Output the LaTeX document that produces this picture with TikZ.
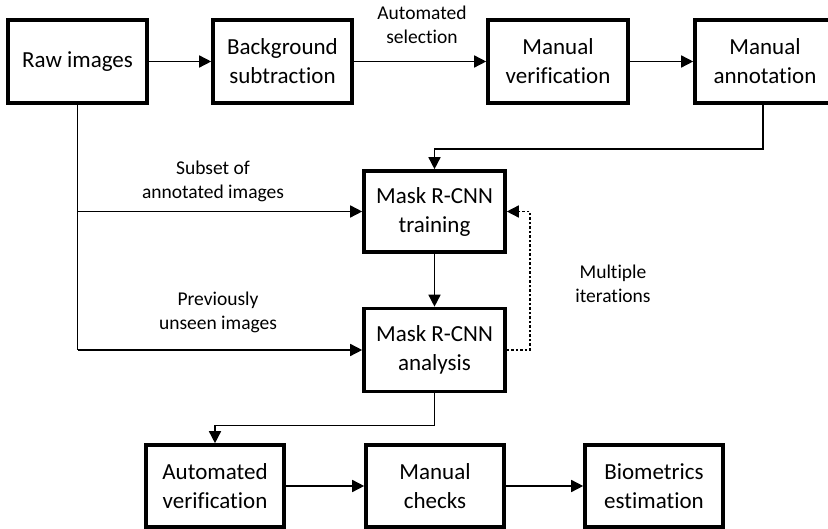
\documentclass[tikz,border=0pt]{standalone}
\usepackage{fontspec}
\setmainfont{Carlito}[Ligatures=NoCommon]
\usepackage{tikz}
\usetikzlibrary{arrows.meta}

\tikzset{
  stage/.style={draw, line width=3.6pt, align=center, inner sep=0pt,
    minimum width=139pt, minimum height=83pt,
    font=\fontsize{23}{29}\selectfont},
  note/.style={align=center, font=\fontsize{19.5}{24}\selectfont},
  arr/.style={line width=1.5pt, -{Triangle[length=12pt,width=12pt]}},
  link/.style={line width=1.5pt}
}

\begin{document}
\begin{tikzpicture}[x=1pt,y=-1pt]
\newcommand{\rowtop}{61.5}
\newcommand{\rowbot}{486}

\useasboundingbox (0,0) rectangle (828,529);

\node[stage] (raw) at (77.5,\rowtop) {Raw images};
\node[stage] (bgsub) at (282.5,\rowtop) {Background\\subtraction};
\node[stage, minimum width=140pt] (manver) at (558,\rowtop) {Manual\\verification};
\node[stage, minimum width=160pt] (manann) at (775,\rowtop) {};
\node (manlbl) at (765,\rowtop) [align=center, font=\fontsize{23}{29}\selectfont] {Manual\\annotation};

\node[stage, minimum width=141pt, minimum height=81pt] (train) at (434.5,211.5) {Mask R-CNN\\training};
\node[stage, minimum width=141pt] (anal) at (434.5,350) {Mask R-CNN\\analysis};

\node[stage, minimum width=138pt, minimum height=82pt] (autover) at (215,\rowbot) {Automated\\verification};
\node[stage, minimum width=138pt, minimum height=82pt] (checks) at (435,\rowbot) {Manual\\checks};
\node[stage, minimum width=138pt, minimum height=82pt] (biom) at (654,\rowbot) {Biometrics\\estimation};

\node[note] (selnote) at (422,24.5) {Automated\\selection};
\node[note] (subnote) at (213,181) {Subset of\\annotated images};
\node[note] (unsnote) at (218,312.5) {Previously\\unseen images};
\node[note] (iternote) at (613,284) {Multiple\\iterations};

\draw[arr] (raw) -- (bgsub);
\draw[arr] (bgsub) -- (manver);
\draw[arr] (manver) -- (manann);
\draw[arr] (manlbl.center |- manann.south) ++(-2,0) -- ++(0,44) -| (train.north);
\draw[link] (raw.south) -- (raw.south |- anal.west);
\draw[arr] (raw.south |- train.west) -- (train.west);
\draw[arr] (raw.south |- anal.west) -- (anal.west);
\draw[arr] (train) -- (anal);
\draw[arr, dash pattern=on 2.5pt off 2pt] (anal.east) -- ++(23,0) |- (train.east);
\draw[arr] (anal.south) -- ++(0,32) -| (autover.north);
\draw[arr] (autover) -- (checks);
\draw[arr] (checks) -- (biom);
\end{tikzpicture}
\end{document}
